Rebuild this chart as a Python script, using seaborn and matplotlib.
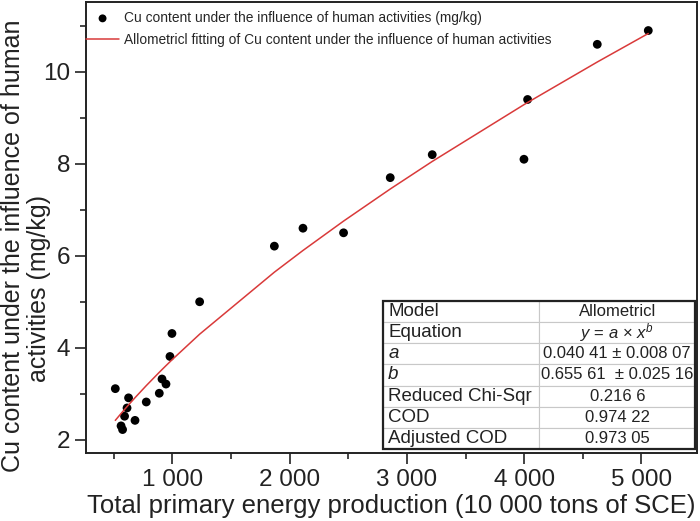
import matplotlib
matplotlib.use("Agg")
import matplotlib.pyplot as plt
import seaborn as sns
import pandas as pd
from matplotlib.ticker import MultipleLocator, FuncFormatter
from matplotlib.patches import Rectangle

# Values
energy = [514, 563, 576, 593, 614, 627, 682, 778, 889, 912, 946, 980, 997,
          1233, 1870, 2114, 2460, 2858, 3216, 3998, 4029, 4623, 5058]
cu = [3.11, 2.30, 2.22, 2.51, 2.69, 2.91, 2.42, 2.82, 3.01, 3.32, 3.21, 3.81, 4.31,
      5.00, 6.21, 6.60, 6.50, 7.70, 8.20, 8.10, 9.40, 10.60, 10.90]

# Allometric fit parameters (from the table in the chart)
fit_a = 0.04041
fit_b = 0.65561

table_keys = ["Model", "Equation", "a", "b", "Reduced Chi-Sqr", "COD", "Adjusted COD"]
table_vals = ["Allometricl", r"$y$ = $a$ × $x^{b}$", "0.040 41 ± 0.008 07",
              "0.655 61  ± 0.025 16", "0.216 6", "0.974 22", "0.973 05"]

df = pd.DataFrame({"energy": energy, "cu": cu})
df["fit"] = fit_a * df["energy"] ** fit_b

sns.set_style("ticks")
plt.rcParams["font.family"] = ["Liberation Sans", "DejaVu Sans"]
plt.rcParams["mathtext.fontset"] = "custom"
plt.rcParams["mathtext.rm"] = "Liberation Sans"
plt.rcParams["mathtext.it"] = "Liberation Sans:italic"

fig = plt.figure(figsize=(7, 5.21), dpi=100)
ax = fig.add_axes([0.123, 0.1305, 0.873, 0.8656])

sns.scatterplot(data=df, x="energy", y="cu", color="black", s=40, edgecolor="none",
                label="Cu content under the influence of human activities (mg/kg)", ax=ax)
sns.lineplot(data=df, x="energy", y="fit", color="#d93a3a", linewidth=1.1,
             label="Allometricl fitting of Cu content under the influence of human activities", ax=ax)

ax.set_xlim(265, 5475)
ax.set_ylim(1.71, 11.52)
ax.xaxis.set_major_locator(MultipleLocator(1000))
ax.xaxis.set_minor_locator(MultipleLocator(500))
ax.yaxis.set_major_locator(MultipleLocator(2))
ax.yaxis.set_minor_locator(MultipleLocator(1))
ax.xaxis.set_major_formatter(FuncFormatter(lambda v, p: f"{int(v):,}".replace(",", " ")))
ax.tick_params(which="major", direction="out", length=8, width=1.2, labelsize=17.5, colors="#222222")
ax.tick_params(which="minor", direction="out", length=4.5, width=1.2)
for s in ax.spines.values():
    s.set_linewidth(1.4)
    s.set_color("#222222")

ax.set_xlabel("Total primary energy production (10 000 tons of SCE)", fontsize=18.5, labelpad=2, color="#222222")
ax.set_ylabel("")
fig.text(13 / 700, 1 - 246 / 521, "Cu content under the influence of human", rotation=90,
         ha="center", va="center", fontsize=18, color="#222222")
fig.text(39 / 700, 1 - 289 / 521, "activities (mg/kg)", rotation=90,
         ha="center", va="center", fontsize=18, color="#222222")

ax.legend(loc="upper left", bbox_to_anchor=(-0.0147, 1.0), frameon=False, fontsize=9.9,
          handlelength=2.4, handletextpad=0.37, borderaxespad=0, borderpad=0.65,
          labelspacing=0.55, markerscale=0.9)

cells = [[k, v] for k, v in zip(table_keys, table_vals)]
tbl = ax.table(cellText=cells, bbox=[0.4866, 0.0089, 0.5101, 0.3282], cellLoc="center")
tbl.auto_set_font_size(False)
for (r, c), cell in tbl.get_celld().items():
    cell.set_edgecolor("#c8c8c8")
    cell.set_linewidth(0.8)
    cell.set_facecolor("white")
    txt = cell.get_text()
    txt.set_color("#222222")
    if c == 0:
        cell.PAD = 0.03
        txt.set_ha("left")
        txt.set_fontsize(13.5)
        if table_keys[r] in ("a", "b"):
            txt.set_fontstyle("italic")
    else:
        txt.set_fontsize(12)
ax.add_patch(Rectangle((0.4866, 0.0089), 0.5101, 0.3282, transform=ax.transAxes,
                       fill=False, edgecolor="#222222", linewidth=1.6, zorder=10))

fig.savefig("out.png", dpi=100)
